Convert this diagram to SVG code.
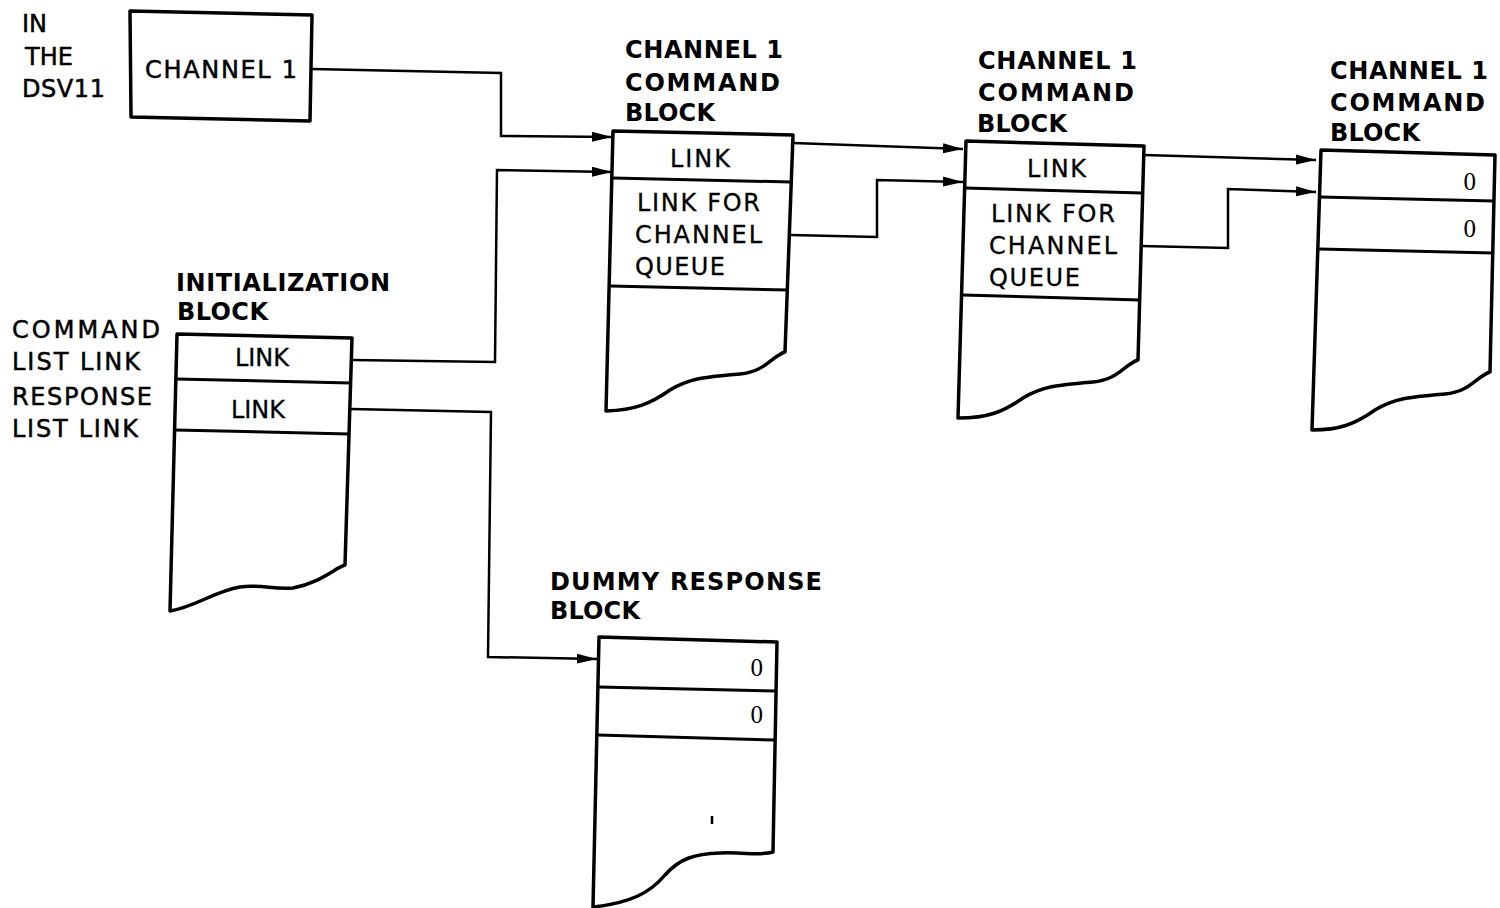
<svg xmlns="http://www.w3.org/2000/svg" width="1500" height="908" viewBox="0 0 1500 908">
<style>
.t{font-family:"DejaVu Sans","Liberation Sans",sans-serif;font-size:24px;fill:#000}
.h{font-weight:bold}
.m{stroke:#000;stroke-width:0.5}
.r{stroke:#000;stroke-width:0.3}
.z{font-family:"Liberation Serif","Times New Roman",serif;font-size:25px;fill:#000}
.box{fill:#fff;stroke:#000;stroke-width:3.5;stroke-linejoin:round}
.div{stroke:#000;stroke-width:3;fill:none}
.con{fill:none;stroke:#000;stroke-width:2.5;marker-end:url(#arr)}
</style>
<defs>
<marker id="arr" markerUnits="userSpaceOnUse" markerWidth="22" markerHeight="12" refX="20" refY="5.5" orient="auto">
<path d="M0,0.5 L20,5.5 L0,10.5 Z" fill="#000"/>
</marker>
</defs>
<rect width="1500" height="908" fill="#fff"/>

<g id="connectors">
<path class="con" d="M312,69 L501,73 L501,136 L612,137"/>
<path class="con" d="M352,360 L495,362 L497,170 L612,172"/>
<path class="con" d="M351,409 L491,412 L488,657 L597,659"/>
<path class="con" d="M793,143 L963,149"/>
<path class="con" d="M791,235 L877,237 L877,180 L963,182"/>
<path class="con" d="M1144,155 L1316,160"/>
<path class="con" d="M1141,246 L1228,248 L1228,189 L1316,192"/>
</g>

<g id="dsv11">
<text class="t m" x="22" y="32">IN</text>
<text class="t m" x="25" y="65" textLength="48">THE</text>
<text class="t m" x="22" y="97" textLength="83">DSV11</text>
<path class="box" stroke-width="4" d="M130,11 L312,15 L310,121 L131,117 Z"/>
<text class="t m" x="145" y="78" textLength="152">CHANNEL 1</text>
</g>

<g id="init-block">
<text class="t h" x="176" y="291" textLength="214">INITIALIZATION</text>
<text class="t h" x="177" y="320" textLength="91">BLOCK</text>
<text class="t m" x="12" y="338" textLength="148">COMMAND</text>
<text class="t m" x="12" y="370" textLength="128">LIST LINK</text>
<text class="t m" x="12" y="405" textLength="140">RESPONSE</text>
<text class="t m" x="12" y="437" textLength="126">LIST LINK</text>
<path class="box" d="M177,334 L352,338 L345,565 C335,568 320,583 293,588 C275,590 260,584 240,587 C215,591 195,607 170,611 Z"/>
<path class="div" d="M176,379 L351,383 M175,430 L349,434"/>
<text class="t r" x="262" y="366" text-anchor="middle">LINK</text>
<text class="t r" x="258" y="418" text-anchor="middle">LINK</text>
</g>

<g id="cmd-block-1">
<text class="t h" x="625" y="58" textLength="158">CHANNEL 1</text>
<text class="t h" x="625" y="91" textLength="155">COMMAND</text>
<text class="t h" x="625" y="121" textLength="90">BLOCK</text>
<path class="box" d="M613,131 L793,135 L785,352 C772,356 765,372 740,374 C705,377 690,378 670,390 C650,404 635,410 606,411 Z"/>
<path class="div" d="M613,178 L791,182 M610,286 L789,290"/>
<text class="t r" x="670" y="167" textLength="60">LINK</text>
<text class="t r" x="637" y="211" textLength="123">LINK FOR</text>
<text class="t r" x="635" y="243" textLength="127">CHANNEL</text>
<text class="t r" x="635" y="275" textLength="90">QUEUE</text>
</g>

<g id="cmd-block-2">
<text class="t h" x="978" y="69" textLength="159">CHANNEL 1</text>
<text class="t h" x="978" y="101" textLength="156">COMMAND</text>
<text class="t h" x="977" y="132" textLength="90">BLOCK</text>
<path class="box" d="M966,141 L1144,146 L1138,360 C1125,364 1118,380 1093,382 C1058,385 1043,386 1023,398 C1003,412 988,418 958,418 Z"/>
<path class="div" d="M965,188 L1142,193 M963,295 L1140,300"/>
<text class="t r" x="1027" y="177" textLength="59">LINK</text>
<text class="t r" x="991" y="222" textLength="124">LINK FOR</text>
<text class="t r" x="989" y="254" textLength="128">CHANNEL</text>
<text class="t r" x="989" y="286" textLength="91">QUEUE</text>
</g>

<g id="cmd-block-3">
<text class="t h" x="1330" y="79" textLength="158">CHANNEL 1</text>
<text class="t h" x="1330" y="111" textLength="155">COMMAND</text>
<text class="t h" x="1330" y="141" textLength="90">BLOCK</text>
<path class="box" d="M1321,150 L1495,155 L1490,372 C1477,376 1470,392 1445,394 C1410,397 1395,398 1375,410 C1355,424 1340,430 1312,430 Z"/>
<path class="div" d="M1320,197 L1494,201 M1319,249 L1493,253"/>
<text class="z" x="1476" y="190" text-anchor="end">0</text>
<text class="z" x="1476" y="237" text-anchor="end">0</text>
</g>

<g id="dummy-response-block">
<text class="t h" x="550" y="590" textLength="272">DUMMY RESPONSE</text>
<text class="t h" x="550" y="619" textLength="90">BLOCK</text>
<path class="box" d="M599,637 L777,642 L773,852 C760,856 745,852 720,853 C695,854 680,858 665,875 C650,893 630,903 593,907 Z"/>
<path class="div" d="M599,687 L776,691 M598,735 L775,740"/>
<text class="z" x="763" y="676" text-anchor="end">0</text>
<text class="z" x="763" y="723" text-anchor="end">0</text>
<path d="M712,816 L712,824" stroke="#000" stroke-width="2.5"/>
</g>
</svg>
